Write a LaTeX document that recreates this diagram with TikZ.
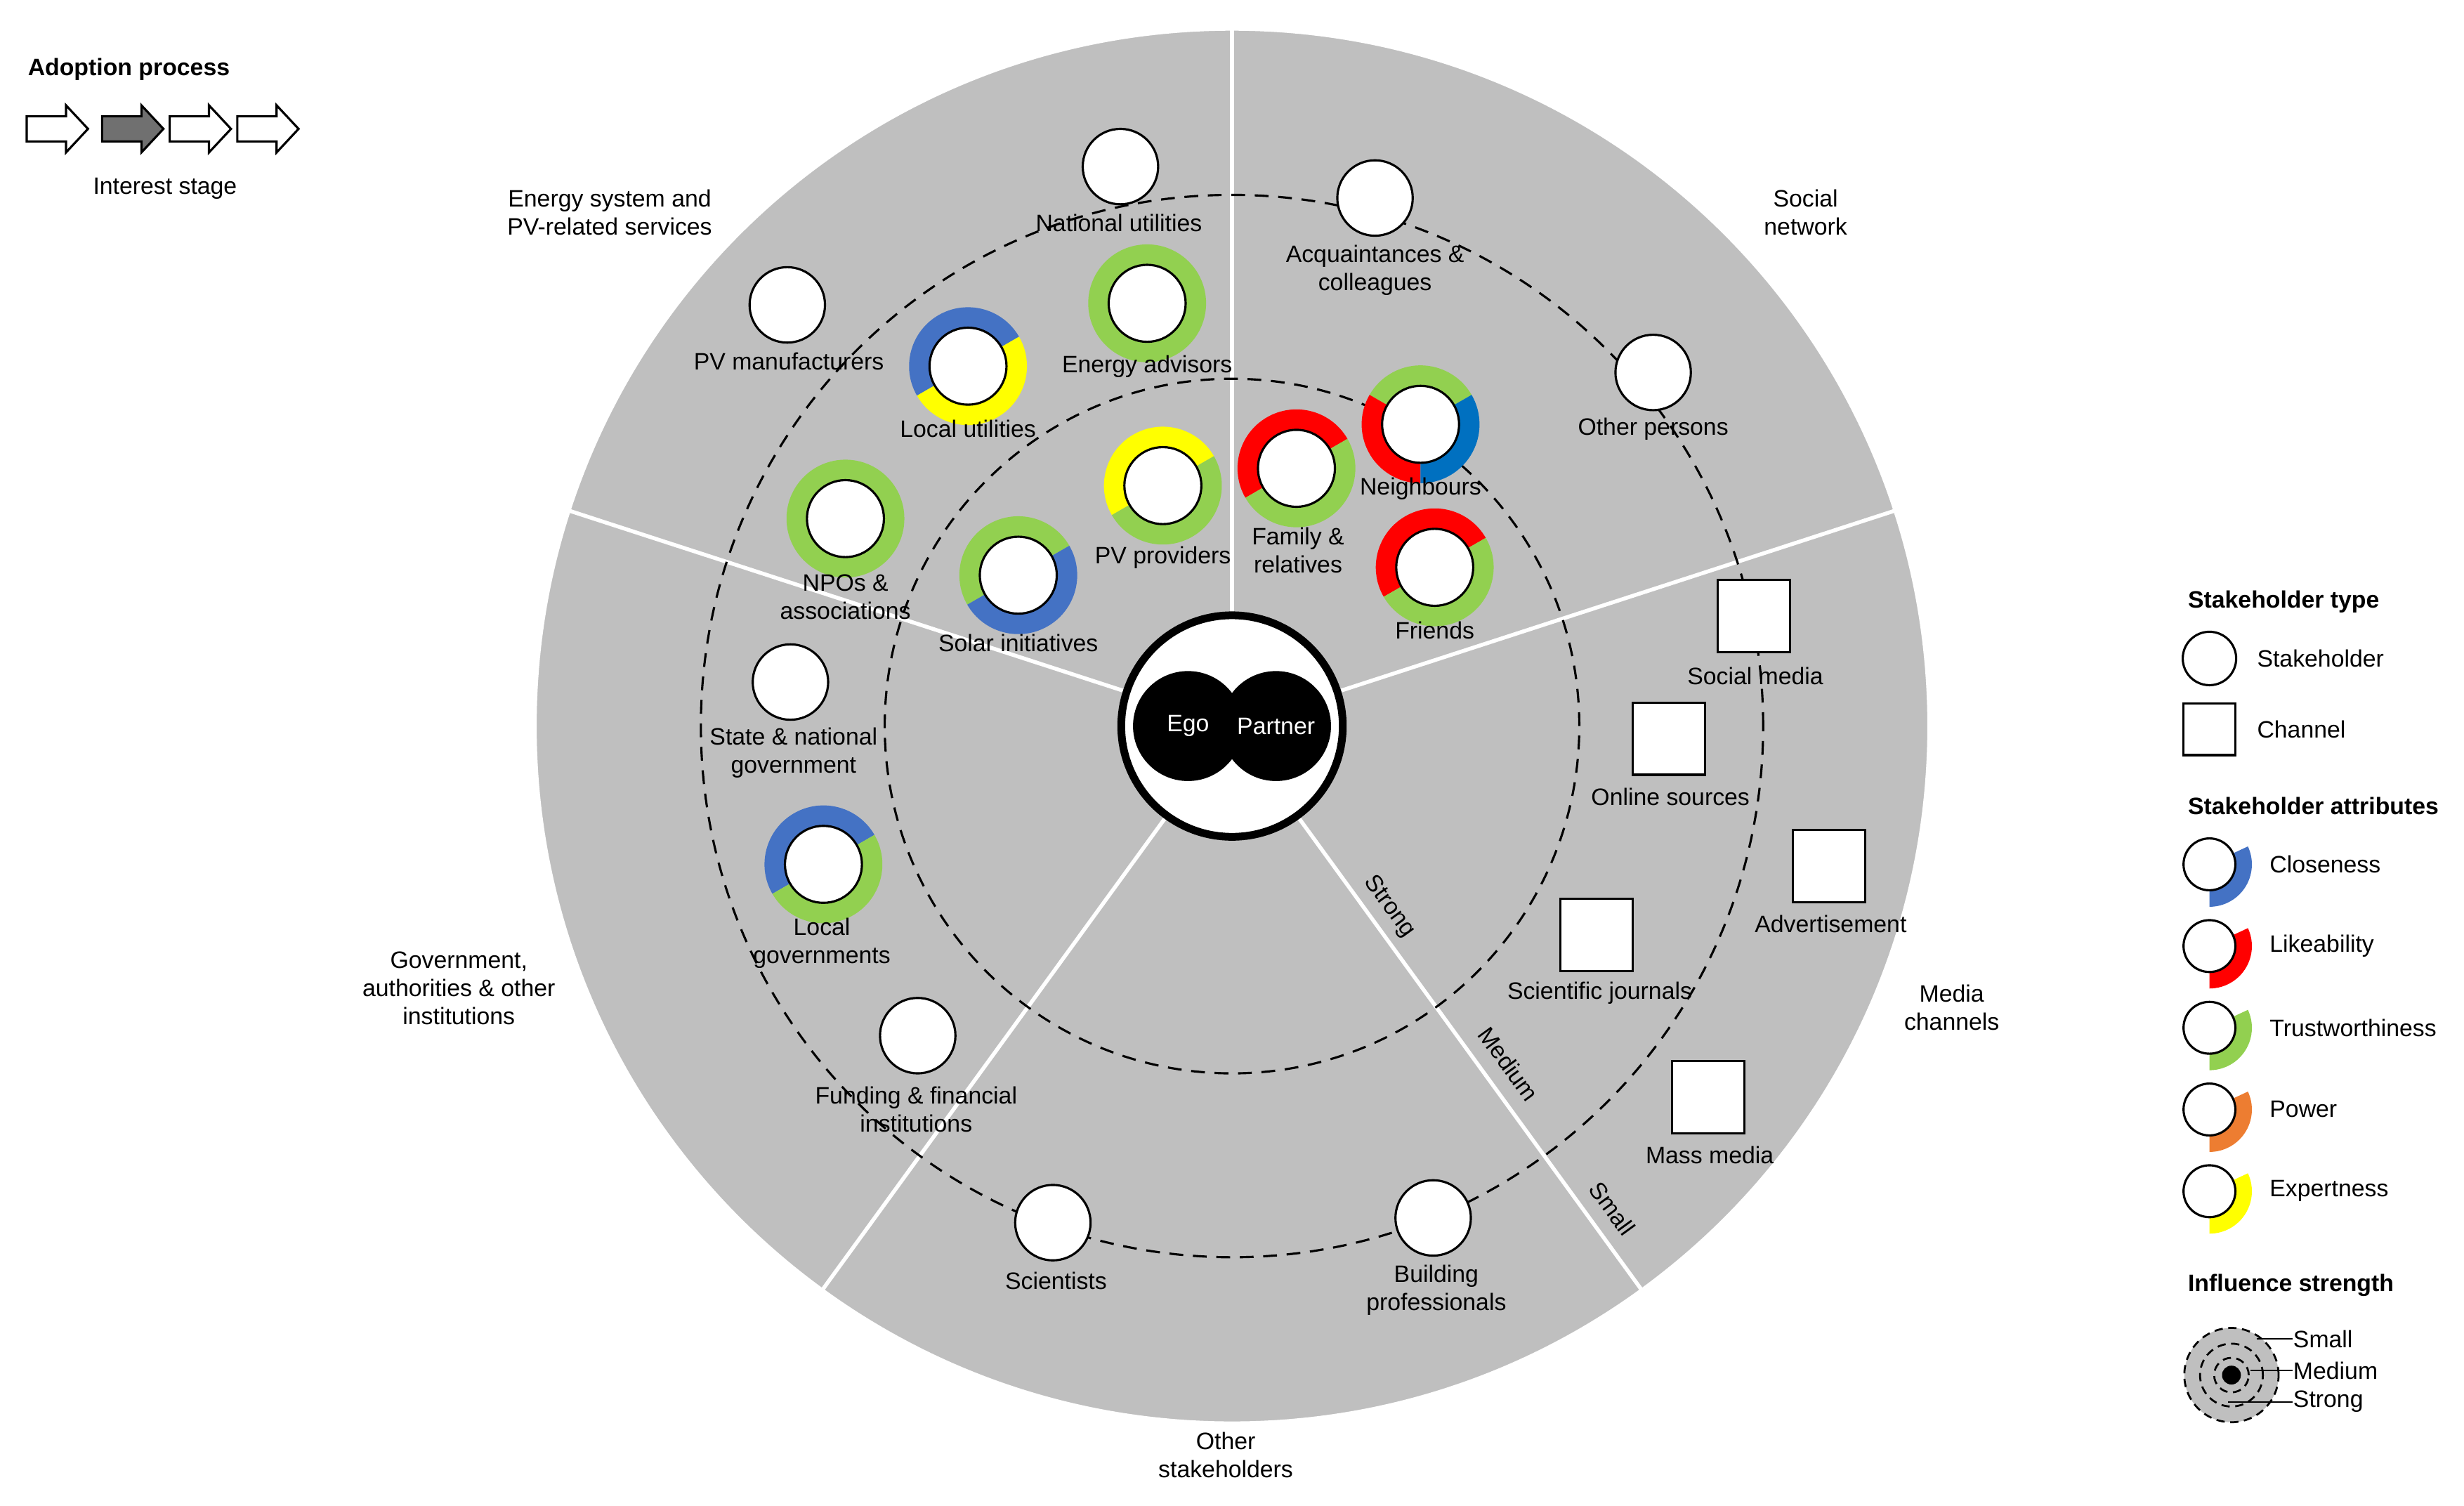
\documentclass[tikz,border=0pt]{standalone}
\usepackage{fontspec}
\setmainfont{Liberation Sans}
\usetikzlibrary{calc}
\definecolor{bg}{HTML}{BFBFBF}
\definecolor{cblue}{HTML}{4472C4}
\definecolor{nblue}{HTML}{0070C0}
\definecolor{cred}{HTML}{FF0000}
\definecolor{cgreen}{HTML}{92D050}
\definecolor{cyel}{HTML}{FFFF00}
\definecolor{corange}{HTML}{ED7D31}
\definecolor{darr}{HTML}{707070}
\newcommand\rseg[4]{\fill[#4] ($(#1)+(#2:37.5)$) arc[start angle=#2,end angle=#3,radius=37.5] -- ($(#1)+(#3:24)$) arc[start angle=#3,end angle=#2,radius=24] -- cycle;}
\newcommand\lseg[4]{\fill[#4] ($(#1)+(#2:27)$) arc[start angle=#2,end angle=#3,radius=27] -- ($(#1)+(#3:15)$) arc[start angle=#3,end angle=#2,radius=15] -- cycle;}
\newcommand\blockarrow[2]{\draw[line width=0.8pt,fill=#2] (#1,-74) -- ++(25,0) -- ++(0,7) -- ++(14,-15) -- ++(-14,-15) -- ++(0,7) -- ++(-25,0) -- cycle;}
\begin{document}
\begin{tikzpicture}[x=0.02cm,y=0.02cm,
  lab/.style={font=\fontsize{8.6}{10.2}\selectfont,align=center,inner sep=0pt},
  hd/.style={font=\fontsize{8.6}{10.2}\selectfont\bfseries,inner sep=0pt},
  stk/.style={circle,draw=black,line width=0.8pt,fill=white,minimum size=0.96cm,inner sep=0pt},
  rstk/.style={circle,draw=black,line width=0.8pt,fill=white,minimum size=0.98cm,inner sep=0pt},
  chan/.style={rectangle,draw=black,line width=0.8pt,fill=white,minimum size=0.92cm,inner sep=0pt},
  sep/.style={white,line width=1.4pt},
  dsh/.style={line width=0.8pt,dash pattern=on 5pt off 3.5pt}]
\useasboundingbox (0,0) rectangle (1568,-958);
\coordinate (C) at (784,-462);
\fill[bg] (C) circle[radius=443];
\draw[white,line width=0.6pt] (C) circle[radius=443];
\foreach \a in {90,162,234,306,18} \draw[sep] ($(C)+(\a:72)$) -- ($(C)+(\a:443)$);
\draw[dsh] (C) circle[radius=338];
\draw[dsh] (C) circle[radius=221];
\coordinate (ea) at (730,-193); \rseg{ea}{0}{360}{cgreen}
\coordinate (lu) at (616,-233); \rseg{lu}{30}{210}{cblue}\rseg{lu}{210}{390}{cyel}
\coordinate (ng) at (904,-270); \rseg{ng}{30}{150}{cgreen}\rseg{ng}{150}{270}{cred}\rseg{ng}{270}{390}{nblue}
\coordinate (npo) at (538,-330); \rseg{npo}{0}{360}{cgreen}
\coordinate (pvp) at (740,-309); \rseg{pvp}{30}{210}{cyel}\rseg{pvp}{210}{390}{cgreen}
\coordinate (fam) at (825,-298); \rseg{fam}{30}{210}{cred}\rseg{fam}{210}{390}{cgreen}
\coordinate (fr) at (913,-361); \rseg{fr}{30}{210}{cred}\rseg{fr}{210}{390}{cgreen}
\coordinate (si) at (648,-366); \rseg{si}{30}{210}{cgreen}\rseg{si}{210}{390}{cblue}
\coordinate (lg) at (524,-550); \rseg{lg}{30}{210}{cblue}\rseg{lg}{210}{390}{cgreen}
\foreach \n in {ea,lu,ng,npo,pvp,fam,fr,si,lg} \node[rstk] (\n n) at (\n) {};
\node[stk] (nu) at (713,-106) {};
\node[stk] (aq) at (875,-126) {};
\node[stk] (pvm) at (501,-194) {};
\node[stk] (op) at (1052,-237) {};
\node[stk] (sng) at (503,-434) {};
\node[stk] (fund) at (584,-659) {};
\node[stk] (sci) at (670,-778) {};
\node[stk] (bp) at (912,-775) {};
\node[chan] (sm) at (1116,-392) {};
\node[chan] (os) at (1062,-470) {};
\node[chan] (adv) at (1164,-551) {};
\node[chan] (sj) at (1016,-595) {};
\node[chan] (mm) at (1087,-698) {};
\node[lab] (l1) at (712,-142) {National utilities};
\node[lab] (l2) at (875,-172) {Acquaintances \&\\colleagues};
\node[lab] (l3) at (502,-230) {PV manufacturers};
\node[lab] (l4) at (730,-233) {Energy advisors};
\node[lab] (l5) at (616,-273) {Local utilities};
\node[lab] (l6) at (1052,-273) {Other persons};
\node[lab] (l7) at (904,-311) {Neighbours};
\node[lab] (l8) at (538,-380) {NPOs \&\\associations};
\node[lab] (l9) at (740,-355) {PV providers};
\node[lab] (l10) at (826,-350) {Family \&\\relatives};
\node[lab] (l11) at (913,-401) {Friends};
\node[lab] (l12) at (648,-409) {Solar initiatives};
\node[lab] (l13) at (505,-479) {State \& national\\government};
\node[lab] (l14) at (523,-600) {Local\\governments};
\node[lab] (l15) at (583,-706) {Funding \& financial\\institutions};
\node[lab] (l16) at (672,-815) {Scientists};
\node[lab] (l17) at (914,-821) {Building\\professionals};
\node[lab] (l18) at (1117,-430) {Social media};
\node[lab] (l19) at (1063,-507) {Online sources};
\node[lab] (l20) at (1165,-588) {Advertisement};
\node[lab] (l21) at (1018,-632) {Scientific journals};
\node[lab] (l22) at (1088,-735) {Mass media};
\node[lab] (s1) at (388,-135) {Energy system and\\PV-related services};
\node[lab] (s2) at (1149,-135) {Social\\network};
\node[lab] (s3) at (1242,-641) {Media\\channels};
\node[lab] (s4) at (780,-926) {Other\\stakeholders};
\node[lab] (s5) at (292,-629) {Government,\\authorities \& other\\institutions};
\node[lab,rotate=-54] (st) at (884,-577) {Strong};
\node[lab,rotate=-54] (me) at (960,-677) {Medium};
\node[lab,rotate=-54] (sml) at (1026,-769) {Small};
\node[circle,draw=black,fill=white,line width=2.8pt,minimum size=2.82cm] (core) at (C) {};
\node[circle,fill=black,minimum size=1.4cm,inner sep=0pt,text=white,font=\fontsize{8.6}{10}\selectfont] (ego) at (756,-462) {Ego};
\node[circle,fill=black,minimum size=1.4cm,inner sep=0pt,text=white,font=\fontsize{8.6}{10}\selectfont] (par) at (812,-462) {Partner};
\node[hd] (ap) at (82,-44) {Adoption process};
\blockarrow{17}{white}\blockarrow{65}{darr}\blockarrow{108}{white}\blockarrow{151}{white}
\node[lab] (is) at (105,-120) {Interest stage};
\node[hd,anchor=west] (sth) at (1392,-383) {Stakeholder type};
\node[circle,draw=black,line width=0.8pt,fill=white,minimum size=0.68cm,inner sep=0pt] (lgc) at (1406,-419) {};
\node[lab,anchor=west] (lgct) at (1436,-419) {Stakeholder};
\node[rectangle,draw=black,line width=0.8pt,fill=white,minimum size=0.66cm,inner sep=0pt] (lgs) at (1406,-464) {};
\node[lab,anchor=west] (lgst) at (1436,-464) {Channel};
\node[hd,anchor=west] (sah) at (1392,-513) {Stakeholder attributes};
\foreach \y/\c/\t in {550/cblue/Closeness,602/cred/Likeability,654/cgreen/Trustworthiness,706/corange/Power,758/cyel/Expertness}{
  \coordinate (a\y) at (1406,-\y);
  \lseg{a\y}{-90}{25}{\c}
  \node[circle,draw=black,line width=0.8pt,fill=white,minimum size=0.66cm,inner sep=0pt] (ac\y) at (a\y) {};
  \node[lab,anchor=west] (at\y) at (1444,-\y) {\t};
}
\node[hd,anchor=west] (ish) at (1392,-818) {Influence strength};
\coordinate (ic) at (1420,-875);
\fill[bg] (ic) circle[radius=30];
\draw[line width=0.7pt,dash pattern=on 3pt off 2pt] (ic) circle[radius=30];
\draw[line width=0.7pt,dash pattern=on 3pt off 2pt] (ic) circle[radius=20];
\draw[line width=0.7pt,dash pattern=on 3pt off 2pt] (ic) circle[radius=11];
\fill[black] (ic) circle[radius=6];
\node[lab,anchor=west] (is1) at (1459,-852) {Small};
\node[lab,anchor=west] (is2) at (1459,-872) {Medium};
\node[lab,anchor=west] (is3) at (1459,-892) {Strong};
\draw[line width=0.5pt] (1436,-852) -- (is1.west);
\draw[line width=0.5pt] (1432,-872) -- (is2.west);
\draw[line width=0.5pt] (1418,-892) -- (is3.west);
\end{tikzpicture}
\end{document}
